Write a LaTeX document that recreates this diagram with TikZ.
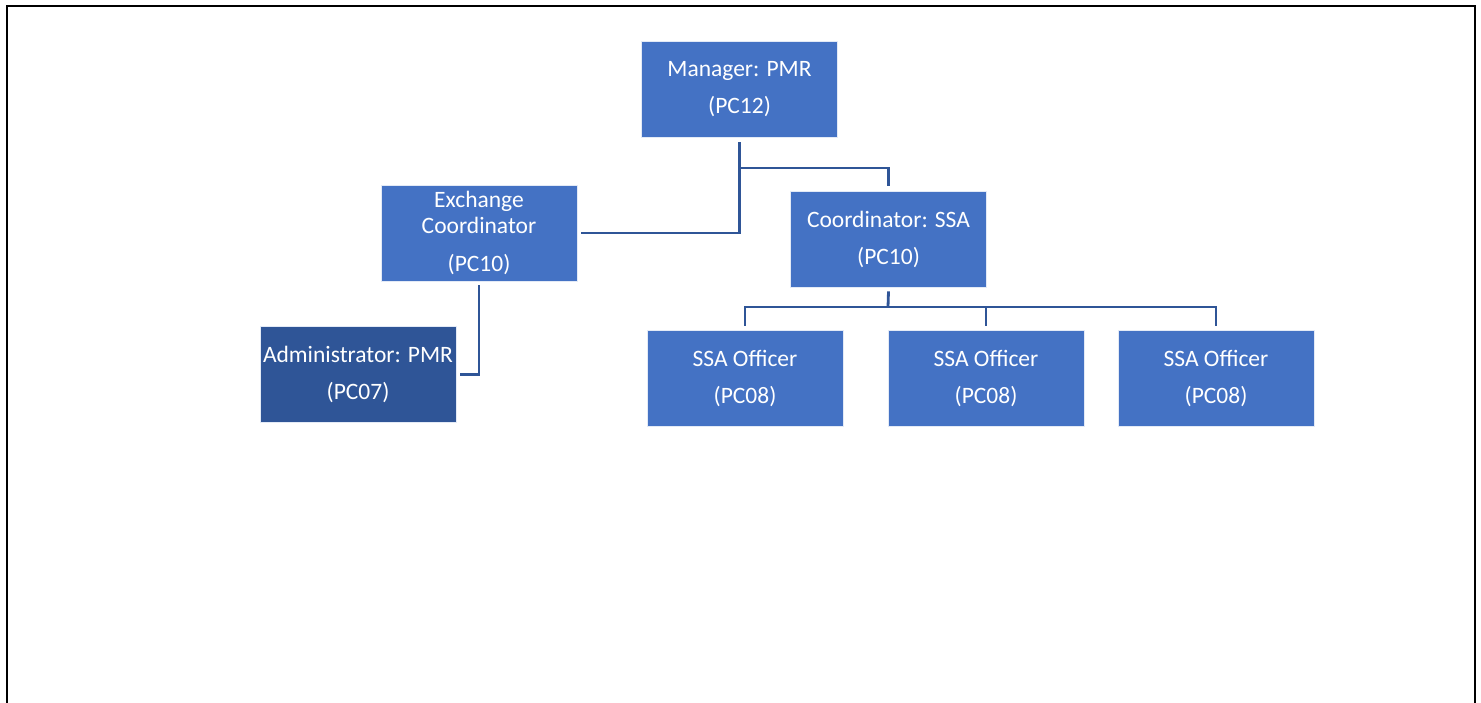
\documentclass[tikz,border=0pt]{standalone}
\usepackage{fontspec}
\setmainfont{Carlito}
\definecolor{boxblue}{HTML}{4472C4}
\definecolor{darkblue}{HTML}{2F5597}
\definecolor{linkblue}{HTML}{2F5597}
\begin{document}
\begin{tikzpicture}[x=1pt,y=-1pt,
  orgbox/.style={draw=white!85!boxblue, line width=0.6pt, fill=boxblue, text=white,
    minimum width=196pt, minimum height=96pt, inner sep=0pt, align=center,
    font=\fontsize{23.5}{26}\selectfont},
  darkbox/.style={orgbox, fill=darkblue},
  conn/.style={draw=linkblue, line width=2.8pt},
  frame/.style={draw=black, line width=2.8pt}]
\useasboundingbox (0,0) rectangle (1481,702);
% frame
\draw[frame] (7,705) -- (7,6) -- (1475,6) -- (1475,705);
% nodes
\node[orgbox] (mgr) at (739.5,89) {Manager: PMR\\[11pt](PC12)};
\node[orgbox] (exc) at (479,233) {Exchange\\Coordinator\\[12pt](PC10)};
\node[orgbox] (ssa) at (888.5,239) {Coordinator: SSA\\[11pt](PC10)};
\node[darkbox] (adm) at (358,374.5) {Administrator: PMR\\[11pt](PC07)};
\node[orgbox] (o1) at (745,378) {SSA Officer\\[11pt](PC08)};
\node[orgbox] (o2) at (986,378) {SSA Officer\\[11pt](PC08)};
\node[orgbox] (o3) at (1216,378) {SSA Officer\\[11pt](PC08)};
% junctions
\coordinate (j1) at (740,168);
\coordinate (bus) at (888,307);
% connectors
\draw[conn] ([yshift=-5pt]mgr.south) |- ([xshift=4pt]exc.east);
\draw[conn] (j1) -| ([yshift=5pt]ssa.north);
\draw[conn] ([yshift=-4pt]ssa.south) -- (bus);
\draw[conn] ([yshift=4pt]o1.north) |- (bus) -| ([yshift=4pt]o3.north);
\draw[conn] ([yshift=4pt]o2.north) -- (o2.north |- bus);
\draw[conn] ([yshift=-4pt]exc.south) |- ([xshift=4pt]adm.east);
\end{tikzpicture}
\end{document}
